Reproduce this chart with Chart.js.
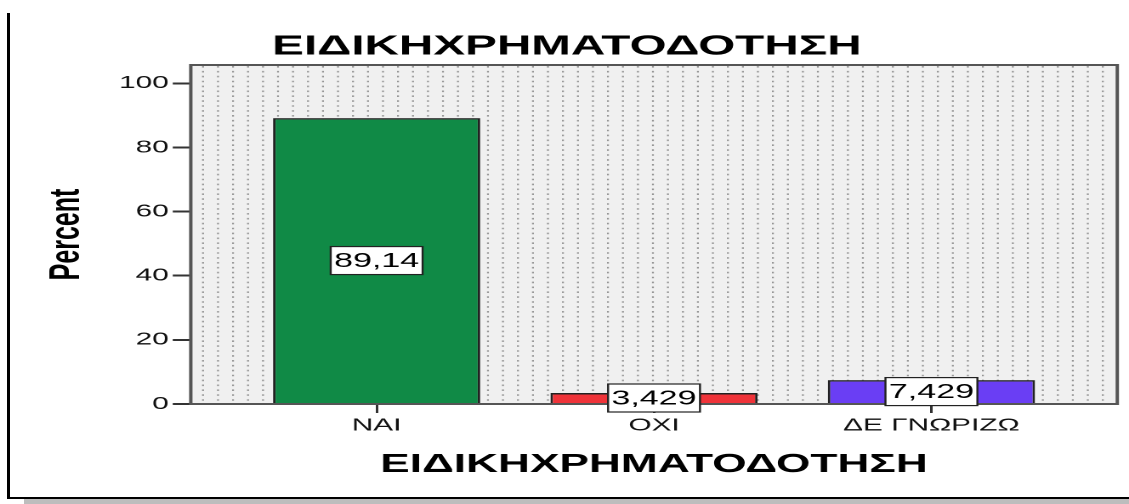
<!DOCTYPE html>
<html><head><meta charset="utf-8">
<script src="https://cdn.jsdelivr.net/npm/chart.js@4.4.1/dist/chart.umd.min.js"></script>
<style>
html,body{margin:0;padding:0;background:#fff;}
#wrap{position:relative;width:1129px;height:504px;overflow:hidden;}
#frame{position:absolute;left:7px;top:13px;width:1200px;height:484px;border-left:3px solid #000;border-bottom:2px solid #000;}
#band{position:absolute;left:24px;top:499px;width:1105px;height:5px;background:#bdbdbd;}
canvas{position:absolute;left:0;top:0;}
</style></head>
<body><div id="wrap"><div id="frame"></div><div id="band"></div>
<canvas id="c" width="664" height="504" style="width:1129px;height:504px"></canvas></div>
<script>
const chartTitle = 'ΕΙΔΙΚΗΧΡΗΜΑΤΟΔΟΤΗΣΗ';
const xAxisTitle = 'ΕΙΔΙΚΗΧΡΗΜΑΤΟΔΟΤΗΣΗ';
const yAxisTitle = 'Percent';
const categories = ['ΝΑΙ', 'ΟΧΙ', 'ΔΕ ΓΝΩΡΙΖΩ'];
const percents = [89.14, 3.429, 7.429];
const barColors = ['#108a46', '#ef3339', '#6a3ef4'];
const yTickValues = [0, 20, 40, 60, 80, 100];

const FAMILY = '"Liberation Sans", Arial, sans-serif';
const fmt = v => v.toPrecision(4).replace('.', ',');

const plotBackground = {
  id: 'plotBackground',
  beforeDraw(chart) {
    const {ctx, chartArea: a} = chart;
    ctx.save();
    ctx.fillStyle = '#f0f0f0';
    ctx.fillRect(a.left, a.top, a.right - a.left, a.bottom - a.top);
    ctx.strokeStyle = '#959595';
    ctx.lineWidth = 1.1;
    ctx.setLineDash([1.6, 3.3]);
    for (let x = a.left + 7.2; x < a.right - 1; x += 8.82) {
      ctx.beginPath();
      ctx.moveTo(x, a.top + 1);
      ctx.lineTo(x, a.bottom);
      ctx.stroke();
    }
    ctx.restore();
  }
};

const plotFrame = {
  id: 'plotFrame',
  beforeDatasetsDraw(chart) {
    const {ctx, chartArea: a} = chart;
    ctx.save();
    ctx.strokeStyle = '#555';
    ctx.lineWidth = 2;
    ctx.strokeRect(a.left, a.top, a.right - a.left, a.bottom - a.top);
    ctx.restore();
  }
};

const valueBoxes = {
  id: 'valueBoxes',
  afterDatasetsDraw(chart) {
    const ctx = chart.ctx;
    const meta = chart.getDatasetMeta(0);
    ctx.save();
    ctx.font = '20px ' + FAMILY;
    ctx.textAlign = 'center';
    ctx.textBaseline = 'middle';
    meta.data.forEach((bar, i) => {
      const {x, y, base} = bar.getProps(['x', 'y', 'base'], true);
      const cy = (y + base) / 2;
      const txt = fmt(percents[i]);
      const w = ctx.measureText(txt).width + 4;
      const h = 28;
      ctx.fillStyle = '#fff';
      ctx.fillRect(x - w / 2, cy - h / 2, w, h);
      ctx.strokeStyle = '#222';
      ctx.lineWidth = 1.2;
      ctx.strokeRect(x - w / 2, cy - h / 2, w, h);
      ctx.fillStyle = '#000';
      ctx.fillText(txt, x, cy + 1);
    });
    ctx.restore();
  }
};

new Chart(document.getElementById('c'), {
  type: 'bar',
  data: {
    datasets: [{
      data: categories.map((c, i) => ({x: i, y: percents[i]})),
      backgroundColor: barColors,
      borderColor: '#222',
      borderWidth: 1.5,
      barPercentage: 0.747,
      categoryPercentage: 1
    }]
  },
  options: {
    responsive: false,
    devicePixelRatio: 2,
    animation: false,
    layout: {padding: {left: 9.7, right: 6.9, top: 0, bottom: 0}},
    plugins: {
      legend: {display: false},
      tooltip: {enabled: false},
      title: {
        display: true, text: chartTitle, color: '#000',
        font: {family: FAMILY, size: 28, weight: 'bold'},
        padding: {top: 30.2, bottom: 1.2}
      }
    },
    scales: {
      x: {
        type: 'linear', min: -0.67, max: 2.67, offset: false,
        afterBuildTicks: s => { s.ticks = categories.map((c, i) => ({value: i})); },
        afterFit: s => { s.height = 100; },
        ticks: {
          callback: v => categories[v], autoSkip: false, maxRotation: 0,
          color: '#111', padding: 2.2, font: {family: FAMILY, size: 17.5}
        },
        grid: {display: true, offset: false, drawOnChartArea: false, drawTicks: true, tickLength: 9, color: '#333', lineWidth: 1.5},
        border: {display: false},
        title: {
          display: true, text: xAxisTitle, color: '#000',
          font: {family: FAMILY, size: 26, weight: 'bold'},
          padding: {top: 0, bottom: 23.4}
        }
      },
      y: {
        min: 0, max: 105.7,
        afterBuildTicks: s => { s.ticks = yTickValues.map(v => ({value: v})); },
        afterFit: s => { s.width = 102.5; },
        ticks: {color: '#111', padding: 2.4, font: {family: FAMILY, size: 17.5}},
        grid: {display: true, drawOnChartArea: false, drawTicks: true, tickLength: 10.6, color: '#333', lineWidth: 2},
        border: {display: false},
        title: {
          display: true, text: yAxisTitle, color: '#000',
          font: {family: FAMILY, size: 25, weight: 'bold'},
          padding: {top: 15, bottom: 0}
        }
      }
    }
  },
  plugins: [plotBackground, plotFrame, valueBoxes]
});
</script>
</body></html>
